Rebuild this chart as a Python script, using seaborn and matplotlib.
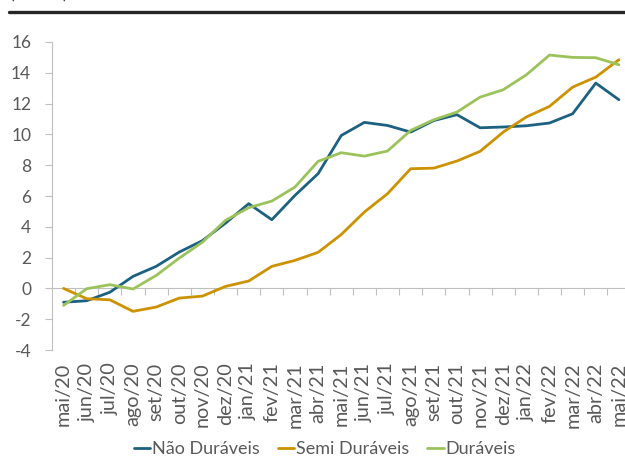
import numpy as np
import pandas as pd
import seaborn as sns
import matplotlib.pyplot as plt
from matplotlib.lines import Line2D

meses = ["mai/20", "jun/20", "jul/20", "ago/20", "set/20", "out/20", "nov/20", "dez/20",
         "jan/21", "fev/21", "mar/21", "abr/21", "mai/21", "jun/21", "jul/21", "ago/21",
         "set/21", "out/21", "nov/21", "dez/21", "jan/22", "fev/22", "mar/22", "abr/22", "mai/22"]

nao_duraveis = [-0.9, -0.8, -0.25, 0.78, 1.43, 2.36, 3.1, 4.24, 5.5, 4.46, 6.04, 7.45,
                9.93, 10.78, 10.58, 10.15, 10.9, 11.28, 10.43, 10.48, 10.56, 10.74, 11.34, 13.33, 12.25]
semi_duraveis = [0.0, -0.67, -0.74, -1.49, -1.21, -0.63, -0.5, 0.13, 0.48, 1.43, 1.82, 2.34,
                 3.5, 4.96, 6.15, 7.77, 7.81, 8.27, 8.9, 10.15, 11.13, 11.82, 13.07, 13.72, 14.85]
duraveis = [-1.1, -0.02, 0.24, -0.04, 0.84, 1.97, 3.0, 4.42, 5.24, 5.67, 6.58, 8.25,
            8.81, 8.59, 8.92, 10.26, 10.95, 11.45, 12.42, 12.9, 13.87, 15.15, 15.0, 14.98, 14.52]

series = ["Não Duráveis", "Semi Duráveis", "Duráveis"]
cores = ["#1d6180", "#cc9200", "#9cc35b"]

pos = list(range(len(meses)))
df = pd.DataFrame({
    "pos": pos * 3,
    "valor": nao_duraveis + semi_duraveis + duraveis,
    "serie": [s for s in series for _ in meses],
})

sns.set_style("white")
plt.rcParams['font.family'] = ['Lato', 'DejaVu Sans']
plt.rcParams['axes.unicode_minus'] = False

cinza = '#595959'
fig = plt.figure(figsize=(6.25, 4.62), dpi=100)
ax = fig.add_axes([0.0832, 0.2424, 0.9256, 0.6667])

sns.lineplot(data=df, x="pos", y="valor", hue="serie", hue_order=series,
             palette=cores, linewidth=2, ax=ax)

ax.set_xlim(-0.5, 24.5)
ax.set_ylim(-4, 16)
ax.set_yticks(range(-4, 17, 2))
ax.set_xlabel(None)
ax.set_ylabel(None)
for s in ["top", "right", "bottom"]:
    ax.spines[s].set_visible(False)
ax.spines["left"].set_color("#bfbfbf")
ax.tick_params(axis="y", left=True, length=5, color="#bfbfbf", labelcolor=cinza,
               labelsize=12.5, pad=10)
ax.set_xticks(pos)
ax.set_xticklabels(meses, rotation=90)
ax.tick_params(axis="x", length=0, pad=9, labelsize=14.3, labelcolor=cinza)

# eixo horizontal cruzando no zero
eixo0 = ax.secondary_xaxis(0.2)
eixo0.set_xticks(np.arange(0.5, 24.5, 1))
eixo0.tick_params(axis="x", direction="out", length=5, color="#bfbfbf", labelbottom=False)
eixo0.spines["bottom"].set_color("#bfbfbf")

sns.move_legend(ax, "center", bbox_to_anchor=(0.52, 0.028), bbox_transform=fig.transFigure,
                ncol=3, title=None, frameon=False, fontsize=13, handlelength=0.9,
                handletextpad=0.1, columnspacing=1.0, labelcolor=cinza)

# cabeçalho cortado
fig.add_artist(Line2D([0.0144, 1.0], [0.9734, 0.9734], transform=fig.transFigure,
                      color="#262626", lw=2.4))
fig.text(0.016, 1.002, "(var. %)", va="baseline", fontsize=13, color="#404040")

fig.savefig("out.png", dpi=100)
